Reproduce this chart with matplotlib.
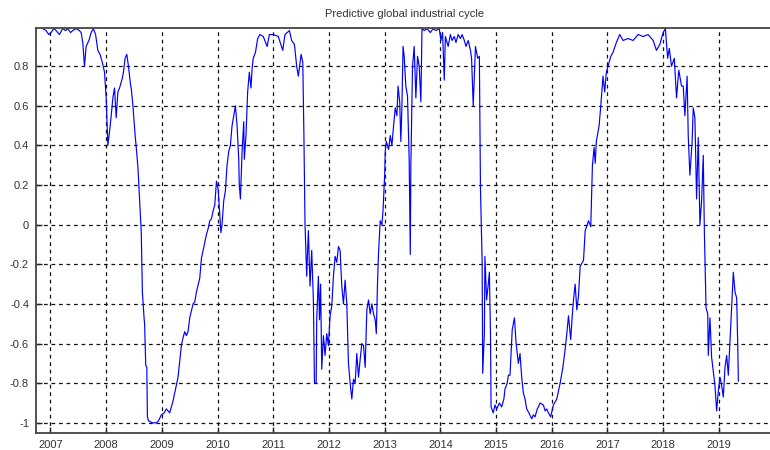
import matplotlib
matplotlib.use('Agg')
import matplotlib.pyplot as plt

# Decimal years and cycle values
years = [
    2006.86, 2006.92, 2006.97, 2007.01, 2007.06, 2007.10, 2007.16, 2007.22,
    2007.27, 2007.31, 2007.36, 2007.40, 2007.46, 2007.52, 2007.55, 2007.58,
    2007.61, 2007.64, 2007.69, 2007.73, 2007.77, 2007.81, 2007.85, 2007.89,
    2007.93, 2007.97, 2008.00, 2008.03, 2008.06, 2008.09, 2008.12, 2008.15,
    2008.18, 2008.21, 2008.24, 2008.29, 2008.31, 2008.34, 2008.37, 2008.40,
    2008.44, 2008.45, 2008.48, 2008.52, 2008.54, 2008.57, 2008.61, 2008.63,
    2008.65, 2008.68, 2008.69, 2008.71, 2008.73, 2008.74, 2008.76, 2008.83,
    2008.90, 2008.94, 2008.99, 2009.04, 2009.08, 2009.14, 2009.20, 2009.26,
    2009.29, 2009.32, 2009.35, 2009.38, 2009.41, 2009.44, 2009.47, 2009.50,
    2009.56, 2009.59, 2009.62, 2009.68, 2009.71, 2009.77, 2009.80, 2009.83,
    2009.86, 2009.89, 2009.92, 2009.95, 2009.98, 2010.01, 2010.04, 2010.06,
    2010.08, 2010.11, 2010.14, 2010.17, 2010.20, 2010.23, 2010.26, 2010.29,
    2010.32, 2010.35, 2010.38, 2010.39, 2010.41, 2010.44, 2010.47, 2010.48,
    2010.51, 2010.54, 2010.57, 2010.60, 2010.62, 2010.64, 2010.68, 2010.72,
    2010.76, 2010.82, 2010.89, 2010.93, 2011.00, 2011.09, 2011.17, 2011.21,
    2011.29, 2011.33, 2011.38, 2011.42, 2011.45, 2011.50, 2011.53, 2011.55,
    2011.57, 2011.60, 2011.63, 2011.66, 2011.69, 2011.72, 2011.74, 2011.77,
    2011.78, 2011.81, 2011.83, 2011.85, 2011.87, 2011.90, 2011.93, 2011.96,
    2011.99, 2012.02, 2012.05, 2012.08, 2012.11, 2012.14, 2012.17, 2012.20,
    2012.23, 2012.26, 2012.29, 2012.32, 2012.35, 2012.38, 2012.41, 2012.44,
    2012.47, 2012.50, 2012.53, 2012.56, 2012.59, 2012.62, 2012.65, 2012.68,
    2012.71, 2012.74, 2012.77, 2012.80, 2012.83, 2012.85, 2012.87, 2012.89,
    2012.92, 2012.95, 2012.97, 2013.00, 2013.01, 2013.03, 2013.07, 2013.10,
    2013.13, 2013.16, 2013.19, 2013.22, 2013.24, 2013.27, 2013.29, 2013.31,
    2013.33, 2013.35, 2013.38, 2013.41, 2013.44, 2013.46, 2013.47, 2013.50,
    2013.53, 2013.56, 2013.59, 2013.62, 2013.65, 2013.67, 2013.71, 2013.76,
    2013.82, 2013.87, 2013.92, 2013.98, 2014.01, 2014.04, 2014.07, 2014.09,
    2014.14, 2014.18, 2014.21, 2014.25, 2014.28, 2014.32, 2014.36, 2014.39,
    2014.43, 2014.46, 2014.50, 2014.54, 2014.56, 2014.59, 2014.63, 2014.67,
    2014.70, 2014.72, 2014.75, 2014.76, 2014.79, 2014.80, 2014.83, 2014.86,
    2014.88, 2014.90, 2014.91, 2014.95, 2014.98, 2015.01, 2015.06, 2015.10,
    2015.14, 2015.16, 2015.20, 2015.22, 2015.25, 2015.29, 2015.33, 2015.36,
    2015.40, 2015.43, 2015.46, 2015.49, 2015.52, 2015.55, 2015.59, 2015.64,
    2015.67, 2015.70, 2015.74, 2015.76, 2015.79, 2015.85, 2015.88, 2015.91,
    2015.94, 2015.98, 2016.03, 2016.09, 2016.15, 2016.20, 2016.24, 2016.27,
    2016.30, 2016.34, 2016.37, 2016.39, 2016.42, 2016.45, 2016.48, 2016.51,
    2016.57, 2016.60, 2016.66, 2016.70, 2016.73, 2016.76, 2016.78, 2016.80,
    2016.85, 2016.88, 2016.92, 2016.95, 2016.98, 2017.03, 2017.06, 2017.10,
    2017.16, 2017.22, 2017.28, 2017.37, 2017.46, 2017.55, 2017.64, 2017.73,
    2017.82, 2017.88, 2017.94, 2018.00, 2018.04, 2018.08, 2018.11, 2018.15,
    2018.20, 2018.24, 2018.28, 2018.33, 2018.36, 2018.39, 2018.43, 2018.45,
    2018.48, 2018.52, 2018.54, 2018.57, 2018.60, 2018.63, 2018.66, 2018.69,
    2018.72, 2018.74, 2018.77, 2018.80, 2018.81, 2018.84, 2018.87, 2018.90,
    2018.93, 2018.96, 2018.99, 2019.02, 2019.05, 2019.08, 2019.11, 2019.14,
    2019.17, 2019.20, 2019.23, 2019.26, 2019.29, 2019.32, 2019.34, 2019.35,
]
cycle = [
    0.99, 0.98, 0.96, 0.97, 0.99, 0.98, 0.96, 0.99,
    0.98, 0.99, 0.97, 0.98, 0.99, 0.98, 0.97, 0.92,
    0.80, 0.90, 0.93, 0.97, 0.99, 0.96, 0.88, 0.86,
    0.82, 0.77, 0.64, 0.40, 0.47, 0.55, 0.64, 0.69,
    0.54, 0.67, 0.69, 0.74, 0.77, 0.84, 0.86, 0.80,
    0.70, 0.69, 0.60, 0.45, 0.39, 0.29, 0.07, -0.04,
    -0.34, -0.47, -0.50, -0.71, -0.72, -0.97, -0.99, -1.00,
    -1.00, -0.99, -0.96, -0.95, -0.93, -0.95, -0.89, -0.81,
    -0.77, -0.69, -0.61, -0.57, -0.54, -0.56, -0.54, -0.47,
    -0.40, -0.39, -0.34, -0.27, -0.17, -0.09, -0.05, -0.02,
    0.02, 0.03, 0.07, 0.10, 0.22, 0.18, 0.05, -0.04,
    0.00, 0.12, 0.17, 0.30, 0.37, 0.40, 0.50, 0.55,
    0.60, 0.50, 0.33, 0.20, 0.13, 0.37, 0.52, 0.33,
    0.45, 0.67, 0.77, 0.69, 0.79, 0.84, 0.87, 0.94,
    0.96, 0.95, 0.90, 0.96, 0.96, 0.95, 0.88, 0.96,
    0.98, 0.93, 0.91, 0.80, 0.75, 0.86, 0.82, 0.45,
    0.00, -0.26, -0.03, -0.31, -0.13, -0.38, -0.80, -0.80,
    -0.48, -0.26, -0.48, -0.30, -0.73, -0.56, -0.66, -0.55,
    -0.61, -0.46, -0.41, -0.26, -0.16, -0.19, -0.11, -0.13,
    -0.31, -0.40, -0.28, -0.40, -0.70, -0.80, -0.88, -0.78,
    -0.80, -0.65, -0.77, -0.68, -0.60, -0.61, -0.72, -0.43,
    -0.38, -0.45, -0.40, -0.45, -0.48, -0.55, -0.31, -0.14,
    0.02, 0.00, 0.07, 0.25, 0.37, 0.42, 0.38, 0.45,
    0.40, 0.50, 0.59, 0.55, 0.70, 0.62, 0.42, 0.60,
    0.90, 0.85, 0.70, 0.65, 0.33, -0.15, 0.30, 0.80,
    0.90, 0.64, 0.85, 0.80, 0.62, 0.99, 0.98, 0.99,
    0.97, 0.99, 0.98, 0.99, 0.93, 0.97, 0.73, 0.95,
    0.90, 0.96, 0.93, 0.95, 0.92, 0.96, 0.94, 0.96,
    0.93, 0.90, 0.93, 0.88, 0.84, 0.60, 0.90, 0.84,
    0.85, 0.18, -0.19, -0.75, -0.55, -0.16, -0.38, -0.30,
    -0.24, -0.56, -0.92, -0.95, -0.91, -0.93, -0.90, -0.92,
    -0.88, -0.83, -0.80, -0.76, -0.76, -0.53, -0.47, -0.60,
    -0.70, -0.65, -0.77, -0.85, -0.88, -0.93, -0.95, -0.98,
    -0.96, -0.97, -0.93, -0.92, -0.90, -0.91, -0.94, -0.93,
    -0.95, -0.97, -0.91, -0.88, -0.80, -0.72, -0.63, -0.55,
    -0.46, -0.58, -0.45, -0.38, -0.30, -0.43, -0.36, -0.21,
    -0.18, -0.03, 0.02, -0.01, 0.30, 0.39, 0.31, 0.42,
    0.50, 0.60, 0.75, 0.67, 0.77, 0.82, 0.85, 0.87,
    0.92, 0.96, 0.93, 0.94, 0.93, 0.96, 0.95, 0.96,
    0.93, 0.88, 0.91, 0.97, 0.99, 0.84, 0.89, 0.80,
    0.84, 0.64, 0.78, 0.70, 0.70, 0.55, 0.75, 0.45,
    0.25, 0.42, 0.59, 0.54, 0.13, 0.44, 0.00, 0.12,
    0.35, -0.04, -0.42, -0.45, -0.66, -0.47, -0.67, -0.74,
    -0.81, -0.94, -0.84, -0.77, -0.81, -0.87, -0.72, -0.66,
    -0.76, -0.59, -0.42, -0.24, -0.34, -0.37, -0.62, -0.79,
]
year_ticks = list(range(2007, 2020))
value_ticks = [-1, -0.8, -0.6, -0.4, -0.2, 0, 0.2, 0.4, 0.6, 0.8]
value_labels = ['-1', '-0.8', '-0.6', '-0.4', '-0.2', '0', '0.2', '0.4', '0.6', '0.8']

plt.rcParams['font.family'] = ['Liberation Sans', 'DejaVu Sans']
plt.rcParams['font.size'] = 8

fig = plt.figure(figsize=(7.7, 4.5), dpi=100)
ax = fig.add_axes([36 / 770, (450 - 432.7) / 450, (774 - 36) / 770, (432.7 - 28) / 450])

ax.plot(years, cycle, color='#0000ff', linewidth=0.85)

ax.set_xlim(2006.74, 2019.99)
ax.set_ylim(-1.05, 0.993)
ax.set_xticks(year_ticks)
ax.set_xticklabels([str(y) for y in year_ticks])
ax.set_yticks(value_ticks)
ax.set_yticklabels(value_labels)

# MATLAB-like look: inward ticks, dashed black grid
ax.tick_params(direction='in', length=4, width=1, colors='#222222',
               labelcolor='#333333', pad=5)
ax.grid(True, color='#111111', linestyle=(0, (3, 3)), linewidth=0.9)
for side in ['left', 'bottom', 'top']:
    ax.spines[side].set_color('#444444')
    ax.spines[side].set_linewidth(1.3)
ax.spines['right'].set_visible(False)

ax.set_title('Predictive global industrial cycle', fontsize=8, color='#333333', pad=8)

fig.savefig('out.png', dpi=100)
